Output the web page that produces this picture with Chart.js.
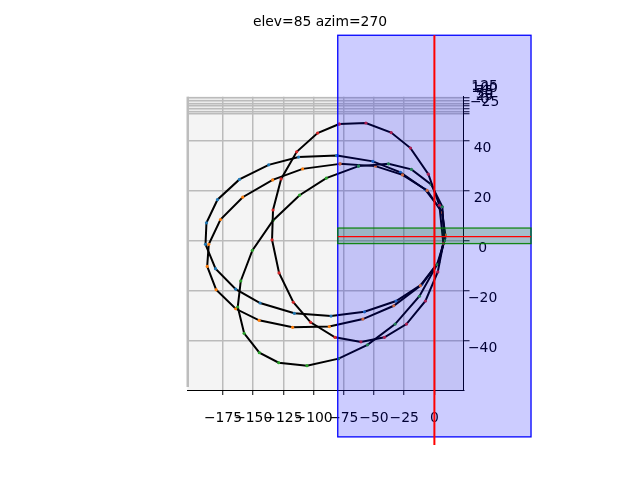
<!DOCTYPE html>
<html>
<head>
<meta charset="utf-8">
<script src="https://cdn.jsdelivr.net/npm/chart.js@4"></script>
<style>
  html, body { margin: 0; background: #fff; }
  canvas { display: block; }
</style>
</head>
<body>
<canvas id="chart" width="640" height="480"></canvas>
<script>
const xTicks = [-175, -150, -125, -100, -75, -50, -25, 0];
const yTicks = [-40, -20, 0, 20, 40];
const zTicks = [-25, 0, 25, 50, 75, 100, 125];

const redX = [-78.8, -96.7, -114.0, -126.9, -133.6, -134.4, -128.6, -116.8, -102.5, -82.3, -60.8, -41.3, -23.1, -7.4, 2.8, 7.4, 4.1, -5.0, -19.8, -35.8, -56.7];
const redY = [46.5, 42.9, 35.4, 24.6, 12.2, 0.3, -12.9, -24.6, -32.6, -38.6, -40.4, -38.6, -33.3, -24.1, -12.5, -1.1, 14.1, 26.5, 36.9, 43.1, 46.9];
const blueX = [-80.7, -112.4, -137.2, -161.4, -179.6, -188.7, -189.5, -181.2, -164.5, -144.3, -116.0, -85.6, -57.9, -31.7, -10.4, 3.6, 8.8, 6.4, -7.7, -28.1, -50.9];
const blueY = [33.9, 33.3, 30.2, 24.4, 16.3, 7.1, -1.5, -11.2, -19.4, -24.9, -29.0, -30.1, -28.4, -24.1, -17.5, -8.6, 1.0, 11.5, 20.4, 27.2, 31.6];
const orangeX = [-78.2, -109.1, -133.9, -158.7, -177.1, -186.8, -188.1, -180.7, -164.5, -145.1, -117.4, -87.0, -59.2, -33.6, -11.6, 3.6, 9.1, 6.4, -6.0, -26.4, -48.8];
const orangeY = [30.6, 28.6, 24.2, 17.3, 8.4, -1.5, -10.3, -19.6, -27.2, -31.8, -34.6, -34.3, -31.3, -26.0, -18.0, -8.4, 2.2, 11.2, 20.0, 26.2, 29.7];
const greenX = [-62.8, -89.5, -111.6, -133.6, -150.7, -160.3, -162.8, -157.5, -144.9, -128.9, -105.5, -79.3, -55.4, -32.5, -12.4, 2.2, 8.3, 6.6, -2.7, -19.0, -38.0];
const greenY = [29.7, 24.9, 18.1, 8.0, -3.9, -16.1, -26.5, -37.0, -44.7, -48.7, -49.9, -47.1, -41.6, -33.3, -22.2, -9.6, -0.1, 13.5, 22.4, 28.4, 30.6];

// overlay planes and the two red axes lines
const blueRectX = [-80, 80];
const blueRectY = [-78.3, 81.9];
const greenRectX = [-80, 80];
const greenRectY = [-1.2, 5];
const redLineH = 1.6;
const redLineV = [-81.5, 81.9];

function loop(xs, ys, color) {
    // closed loop, so the first point goes on the end again
    const pts = xs.map((x, i) => ({ x: x, y: ys[i] }));
    pts.push(pts[0]);
    return {
        data: pts,
        borderColor: '#000',
        borderWidth: 2,
        tension: 0,
        pointRadius: 1.6,
        pointBorderWidth: 0,
        pointBackgroundColor: color
    };
}

const minusSign = v => String(v).replace('-', '\u2212');

const overlayPlugin = {
    id: 'overlay',
    afterLayout(chart) {
        // right axes have zero width for the layout, but labels get clipped to the box
        ['y', 'z'].forEach(id => {
            const s = chart.scales[id];
            s.right = chart.width;
            s.width = s.right - s.left;
        });
        // title centred on the whole figure
        chart.titleBlock.left = 0;
        chart.titleBlock.right = chart.width;
    },
    beforeDraw(chart) {
        const { ctx, chartArea: a } = chart;
        ctx.save();
        ctx.fillStyle = '#f4f4f4';
        ctx.fillRect(a.left, a.top, a.right - a.left, a.bottom - a.top);
        ctx.fillStyle = '#ececec';
        ctx.fillRect(a.left, a.top, a.right - a.left, 16);
        ctx.fillStyle = '#bdbdbd';
        ctx.fillRect(a.left - 1, a.top, 2.5, a.bottom - a.top - 3);
        ctx.restore();
    },
    afterDatasetsDraw(chart) {
        const { ctx, scales: { x, y } } = chart;
        const rect = (xs, ys, fill, edge) => {
            const l = x.getPixelForValue(xs[0]), r = x.getPixelForValue(xs[1]);
            const t = y.getPixelForValue(ys[1]), b = y.getPixelForValue(ys[0]);
            ctx.fillStyle = fill;
            ctx.fillRect(l, t, r - l, b - t);
            ctx.strokeStyle = edge;
            ctx.lineWidth = 1.3;
            ctx.strokeRect(l, t, r - l, b - t);
        };
        ctx.save();
        rect(blueRectX, blueRectY, 'rgba(0,0,255,0.2)', '#0000ff');
        rect(greenRectX, greenRectY, 'rgba(0,128,0,0.2)', 'rgba(0,128,0,0.9)');
        ctx.strokeStyle = '#ff0000';
        ctx.lineWidth = 1.3;
        ctx.beginPath();
        ctx.moveTo(x.getPixelForValue(blueRectX[0]), y.getPixelForValue(redLineH));
        ctx.lineTo(x.getPixelForValue(blueRectX[1]), y.getPixelForValue(redLineH));
        ctx.stroke();
        ctx.lineWidth = 2;
        ctx.beginPath();
        ctx.moveTo(x.getPixelForValue(0), y.getPixelForValue(redLineV[1]));
        ctx.lineTo(x.getPixelForValue(0), y.getPixelForValue(redLineV[0]));
        ctx.stroke();
        ctx.restore();
    }
};

const tickFont = { family: '"DejaVu Sans"', size: 13.9 };
const gridStyle = { color: '#bbbbbb', lineWidth: 1.5, tickColor: '#000', tickWidth: 1 };

new Chart(document.getElementById('chart'), {
    type: 'line',
    data: {
        datasets: [
            loop(redX, redY, '#d62728'),
            loop(greenX, greenY, '#2ca02c'),
            loop(orangeX, orangeY, '#ff7f0e'),
            loop(blueX, blueY, '#1f77b4')
        ]
    },
    plugins: [overlayPlugin],
    options: {
        responsive: false,
        animation: false,
        layout: { padding: { left: 187.5, right: 176.5, top: 0, bottom: 0 } },
        plugins: {
            legend: { display: false },
            tooltip: { enabled: false },
            title: {
                display: true,
                text: 'elev=85 azim=270',
                color: '#000',
                font: { family: '"DejaVu Sans"', size: 13.9, weight: 'normal' },
                padding: { top: 14, bottom: 66 }
            }
        },
        scales: {
            x: {
                type: 'linear',
                position: 'bottom',
                min: -204.4,
                max: 24.1,
                afterBuildTicks: s => { s.ticks = xTicks.map(v => ({ value: v })); },
                afterFit: s => { s.height = 90; },
                grid: { ...gridStyle, tickLength: 5 },
                border: { color: '#000', width: 1 },
                ticks: { color: '#000', font: tickFont, padding: 15, autoSkip: false, maxRotation: 0, minRotation: 0, callback: minusSign }
            },
            y: {
                type: 'linear',
                position: 'right',
                min: -59.6,
                max: 57.4,
                afterBuildTicks: s => { s.ticks = yTicks.map(v => ({ value: v })); },
                afterFit: s => { s.width = 0; },
                grid: { ...gridStyle, tickLength: 6 },
                border: { color: '#000', width: 1 },
                ticks: { color: '#000', font: tickFont, padding: -1.6, crossAlign: 'center', labelOffset: 8, autoSkip: false, callback: minusSign }
            },
            // squeezed third axis, nearly edge-on at this view angle
            z: {
                type: 'linear',
                position: 'right',
                min: -2612,
                max: 139,
                afterBuildTicks: s => { s.ticks = zTicks.map(v => ({ value: v })); },
                afterFit: s => { s.width = 0; },
                grid: { ...gridStyle, tickLength: 6 },
                border: { display: false },
                ticks: { color: '#000', font: tickFont, padding: 0.4, crossAlign: 'center', labelOffset: -12, autoSkip: false, callback: minusSign }
            }
        }
    }
});
</script>
</body>
</html>
